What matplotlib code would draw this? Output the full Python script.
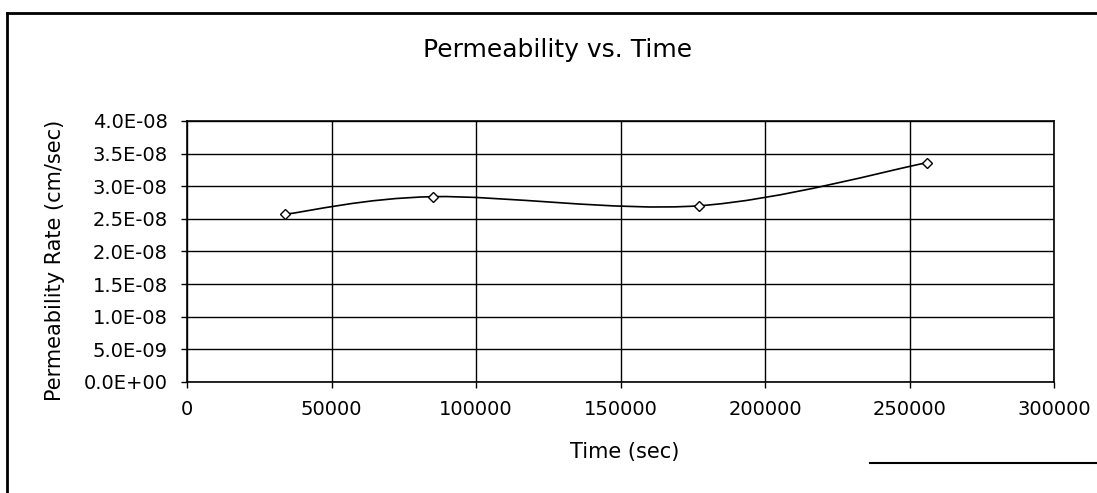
import numpy as np
import matplotlib
matplotlib.use('Agg')
import matplotlib.pyplot as plt
from matplotlib.path import Path
from matplotlib.patches import PathPatch
from matplotlib.lines import Line2D
from matplotlib.ticker import FuncFormatter

# data
time_sec = [33900, 85100, 177000, 256000]
perm_rate = [2.57e-8, 2.84e-8, 2.70e-8, 3.36e-8]

x_ticks = [0, 50000, 100000, 150000, 200000, 250000, 300000]
y_ticks = [0, 5e-9, 1e-8, 1.5e-8, 2e-8, 2.5e-8, 3e-8, 3.5e-8, 4e-8]

title = 'Permeability vs. Time'
x_label = 'Time (sec)'
y_label = 'Permeability Rate (cm/sec)'

plt.rcParams['font.family'] = ['DejaVu Sans']

fig = plt.figure(figsize=(10.97, 4.93), dpi=100)
ax = fig.add_axes([0.1705, 0.2252, 0.7903, 0.5294])

# Excel style smoothed line: bezier segments through the points
pts = np.column_stack([time_sec, perm_rate])
verts = [pts[0]]
codes = [Path.MOVETO]
n = len(pts)
for i in range(n - 1):
    p0 = pts[i - 1] if i > 0 else pts[i]
    p1 = pts[i]
    p2 = pts[i + 1]
    p3 = pts[i + 2] if i + 2 < n else pts[i + 1]
    c1 = p1 + (p2 - p0) / 6.0
    c2 = p2 - (p3 - p1) / 6.0
    verts += [c1, c2, p2]
    codes += [Path.CURVE4] * 3
ax.add_patch(PathPatch(Path(verts, codes), facecolor='none', edgecolor='black',
                       lw=1.2, zorder=3))
ax.plot(time_sec, perm_rate, ls='none', marker='D', ms=5, mfc='white',
        mec='black', mew=1.0, zorder=4)

ax.set_xlim(0, 300000)
ax.set_ylim(0, 4e-8)
ax.set_xticks(x_ticks)
ax.set_yticks(y_ticks)
ax.yaxis.set_major_formatter(FuncFormatter(lambda v, p: f'{v:.1E}'))
ax.xaxis.set_major_formatter(FuncFormatter(lambda v, p: f'{int(v)}'))
ax.tick_params(axis='both', direction='out', length=4, width=1, colors='black',
               labelsize=14)
ax.tick_params(axis='y', pad=10)
ax.tick_params(axis='x', pad=9)
ax.grid(True, color='black', lw=1.0)
ax.set_axisbelow(True)
for sp in ax.spines.values():
    sp.set_color('black')
    sp.set_linewidth(1.2)

fig.text(0.5087, 0.899, title, ha='center', va='center', fontsize=18)
fig.text(0.569, 0.083, x_label, ha='center', va='center', fontsize=15)
fig.text(0.050, 0.472, y_label, ha='center', va='center', rotation=90,
         fontsize=15)

# chart area frame as seen in the scan
fig.add_artist(Line2D([7 / 1097, 1.0], [1 - 13 / 493, 1 - 13 / 493],
                      color='black', lw=2))
fig.add_artist(Line2D([7 / 1097, 7 / 1097], [0.0, 1 - 13 / 493],
                      color='black', lw=2))
fig.add_artist(Line2D([870 / 1097, 1.0], [1 - 463 / 493, 1 - 463 / 493],
                      color='black', lw=1.5))

fig.savefig('out.png', dpi=100)
